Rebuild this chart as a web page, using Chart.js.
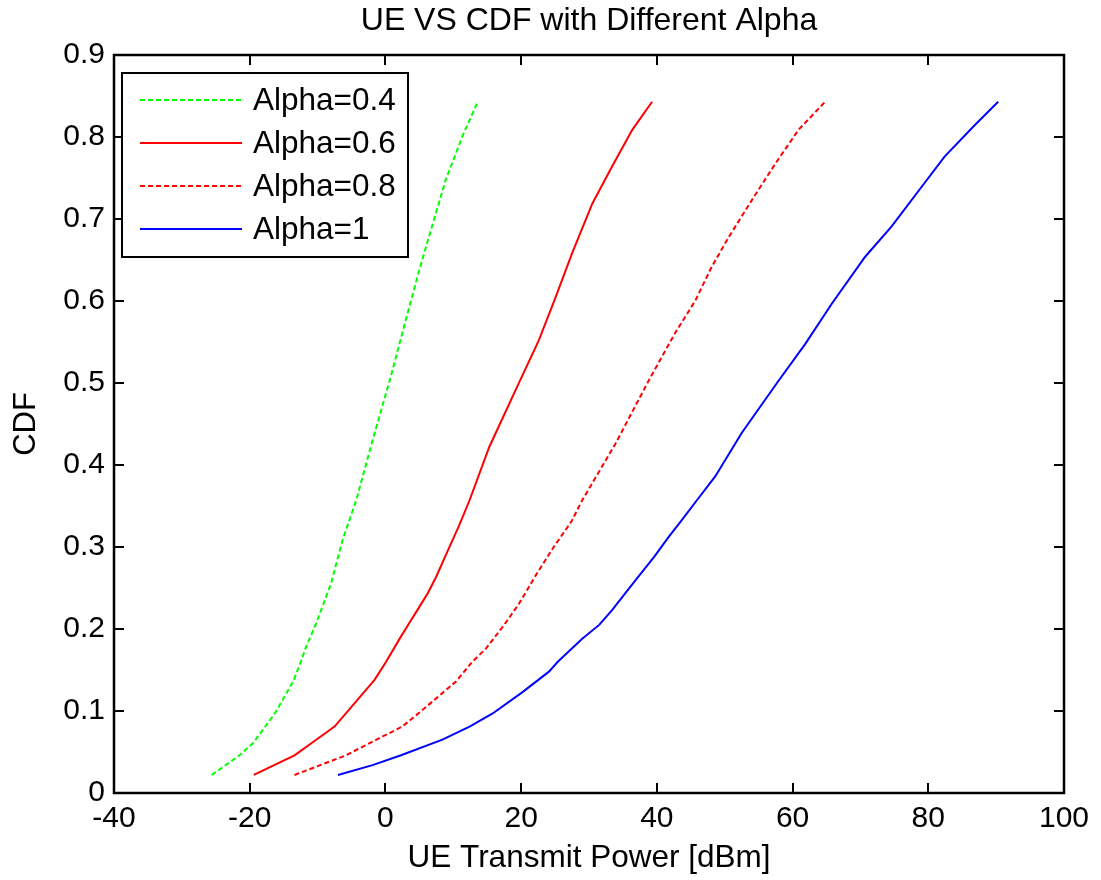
<!DOCTYPE html>
<html>
<head>
<meta charset="utf-8">
<title>UE VS CDF with Different Alpha</title>
<script src="https://cdn.jsdelivr.net/npm/chart.js@4/dist/chart.umd.min.js"></script>
<style>
  html, body { margin: 0; padding: 0; background: #ffffff; }
  #wrap { width: 1101px; height: 880px; }
</style>
</head>
<body>
<div id="wrap"><canvas id="cdf" width="1101" height="880"></canvas></div>
<script>
// Tick labels
const xTickValues = [-40, -20, 0, 20, 40, 60, 80, 100];
const yTickLabels = ['0', '0.1', '0.2', '0.3', '0.4', '0.5', '0.6', '0.7', '0.8', '0.9'];

// Series names
const seriesNames = ['Alpha=0.4', 'Alpha=0.6', 'Alpha=0.8', 'Alpha=1'];

// Alpha = 0.4 : transmit power [dBm] and CDF
const alpha04Power = [-25.6, -21.5, -19.5, -17.8, -16.3, -14.9, -13.6, -12.6, -11.7, -10.2, -8.0, -6.3, -4.3, -1.9, 0.8, 3.0, 5.0, 7.0, 8.9, 11.4, 13.6];
const alpha04Cdf   = [0.022, 0.046, 0.061, 0.080, 0.097, 0.117, 0.136, 0.157, 0.178, 0.207, 0.256, 0.309, 0.357, 0.430, 0.508, 0.577, 0.638, 0.695, 0.748, 0.802, 0.843];

// Alpha = 0.6
const alpha06Power = [-19.4, -13.4, -10.2, -7.5, -4.6, -1.6, 0.1, 2.3, 3.5, 5.0, 6.2, 7.5, 8.9, 10.9, 12.4, 15.3, 20.0, 22.6, 25.1, 27.5, 30.5, 33.4, 36.4, 39.3];
const alpha06Cdf   = [0.022, 0.046, 0.065, 0.081, 0.109, 0.138, 0.160, 0.191, 0.207, 0.227, 0.243, 0.264, 0.290, 0.327, 0.357, 0.422, 0.506, 0.552, 0.605, 0.658, 0.719, 0.764, 0.809, 0.843];

// Alpha = 0.8
const alpha08Power = [-13.4, -5.8, -0.4, 2.5, 6.0, 10.4, 12.8, 14.8, 17.5, 19.7, 22.2, 24.8, 27.4, 29.0, 33.9, 39.0, 42.7, 45.7, 48.1, 50.6, 54.0, 57.5, 60.9, 64.8];
const alpha08Cdf   = [0.022, 0.046, 0.069, 0.081, 0.105, 0.136, 0.160, 0.176, 0.205, 0.231, 0.266, 0.300, 0.331, 0.357, 0.426, 0.506, 0.561, 0.601, 0.642, 0.678, 0.723, 0.768, 0.809, 0.843];

// Alpha = 1
const alpha10Power = [-7.0, -1.9, 2.3, 8.4, 12.4, 15.8, 20.2, 24.1, 25.4, 29.0, 31.5, 33.4, 35.1, 37.1, 39.6, 41.8, 43.7, 45.9, 48.6, 52.5, 57.7, 61.9, 65.8, 70.7, 74.6, 79.0, 82.4, 86.9, 90.3];
const alpha10Cdf   = [0.022, 0.034, 0.046, 0.065, 0.081, 0.097, 0.123, 0.148, 0.160, 0.188, 0.205, 0.223, 0.241, 0.262, 0.288, 0.313, 0.333, 0.357, 0.386, 0.439, 0.500, 0.548, 0.597, 0.654, 0.691, 0.739, 0.776, 0.815, 0.843];

const FONT = 'Arial, "Liberation Sans", Helvetica, sans-serif';

function toPoints(xs, ys) {
  return xs.map((x, i) => ({ x: x, y: ys[i] }));
}

const datasets = [
  { label: seriesNames[0], data: toPoints(alpha04Power, alpha04Cdf), borderColor: '#00ff00', borderDash: [5, 3] },
  { label: seriesNames[1], data: toPoints(alpha06Power, alpha06Cdf), borderColor: '#ff0000', borderDash: [] },
  { label: seriesNames[2], data: toPoints(alpha08Power, alpha08Cdf), borderColor: '#ff0000', borderDash: [5, 3] },
  { label: seriesNames[3], data: toPoints(alpha10Power, alpha10Cdf), borderColor: '#0000ff', borderDash: [] }
].map(d => Object.assign(d, { borderWidth: 2, pointRadius: 0, fill: false, tension: 0 }));

// Axes box with inward tick marks on all four sides
const boxAndTicks = {
  id: 'boxAndTicks',
  afterDatasetsDraw(chart) {
    const { ctx, chartArea: a, scales } = chart;
    const len = 10;
    ctx.save();
    ctx.strokeStyle = '#000000';
    ctx.lineWidth = 2;
    ctx.beginPath();
    scales.x.ticks.forEach(t => {
      const px = Math.round(scales.x.getPixelForValue(t.value));
      ctx.moveTo(px, a.bottom); ctx.lineTo(px, a.bottom - len);
      ctx.moveTo(px, a.top); ctx.lineTo(px, a.top + len);
    });
    scales.y.ticks.forEach(t => {
      const py = Math.round(scales.y.getPixelForValue(t.value));
      ctx.moveTo(a.left, py); ctx.lineTo(a.left + len, py);
      ctx.moveTo(a.right, py); ctx.lineTo(a.right - len, py);
    });
    ctx.stroke();
    ctx.lineWidth = 2.5;
    ctx.strokeRect(a.left, a.top, a.right - a.left, a.bottom - a.top);
    ctx.restore();
  }
};

// Boxed legend in the upper-left corner of the plot area
const innerLegend = {
  id: 'innerLegend',
  afterDraw(chart) {
    const { ctx, chartArea: a } = chart;
    const x0 = a.left + 8, y0 = a.top + 18, w = 286, h = 184;
    ctx.save();
    ctx.fillStyle = '#ffffff';
    ctx.fillRect(x0, y0, w, h);
    ctx.strokeStyle = '#000000';
    ctx.lineWidth = 2;
    ctx.strokeRect(x0, y0, w, h);
    ctx.font = '31.5px ' + FONT;
    ctx.textBaseline = 'middle';
    ctx.textAlign = 'left';
    chart.data.datasets.forEach((ds, i) => {
      const y = y0 + 27 + i * 43;
      ctx.strokeStyle = ds.borderColor;
      ctx.lineWidth = 2;
      ctx.setLineDash(ds.borderDash);
      ctx.beginPath();
      ctx.moveTo(x0 + 18, y);
      ctx.lineTo(x0 + 120, y);
      ctx.stroke();
      ctx.setLineDash([]);
      ctx.fillStyle = '#000000';
      ctx.fillText(ds.label, x0 + 131, y + 1);
    });
    ctx.restore();
  }
};

new Chart(document.getElementById('cdf'), {
  type: 'line',
  data: { datasets: datasets },
  plugins: [boxAndTicks, innerLegend],
  options: {
    responsive: false,
    animation: false,
    devicePixelRatio: 1,
    layout: { padding: { left: 0, right: 37, top: 0, bottom: 0 } },
    plugins: {
      legend: { display: false },
      tooltip: { enabled: false },
      title: {
        display: true,
        text: 'UE VS CDF with Different Alpha',
        fullSize: false,
        color: '#000000',
        font: { family: FONT, size: 32, weight: 'normal', lineHeight: 1.2 },
        padding: { top: 2, bottom: 14.6 }
      }
    },
    scales: {
      x: {
        type: 'linear',
        min: -40,
        max: 100,
        afterBuildTicks(scale) { scale.ticks = xTickValues.map(v => ({ value: v })); },
        afterFit(scale) { scale.height = 87; },
        grid: { display: false, drawTicks: false },
        border: { display: false },
        ticks: {
          color: '#000000',
          padding: 8,
          maxRotation: 0,
          autoSkip: false,
          font: { family: FONT, size: 30 },
          callback: v => String(v)
        },
        title: {
          display: true,
          text: 'UE Transmit Power [dBm]',
          color: '#000000',
          font: { family: FONT, size: 31.5, lineHeight: 1.2 },
          padding: { top: 0, bottom: 3 }
        }
      },
      y: {
        type: 'linear',
        min: 0,
        max: 0.9,
        afterBuildTicks(scale) { scale.ticks = yTickLabels.map((_, i) => ({ value: i / 10 })); },
        afterFit(scale) { scale.width = 114; },
        grid: { display: false, drawTicks: false },
        border: { display: false },
        ticks: {
          color: '#000000',
          padding: 9,
          autoSkip: false,
          font: { family: FONT, size: 30 },
          callback: (v, i) => yTickLabels[i]
        },
        title: {
          display: true,
          text: 'CDF',
          color: '#000000',
          font: { family: FONT, size: 31, lineHeight: 1.2 },
          padding: { top: 8, bottom: 0 }
        }
      }
    }
  }
});
</script>
</body>
</html>
